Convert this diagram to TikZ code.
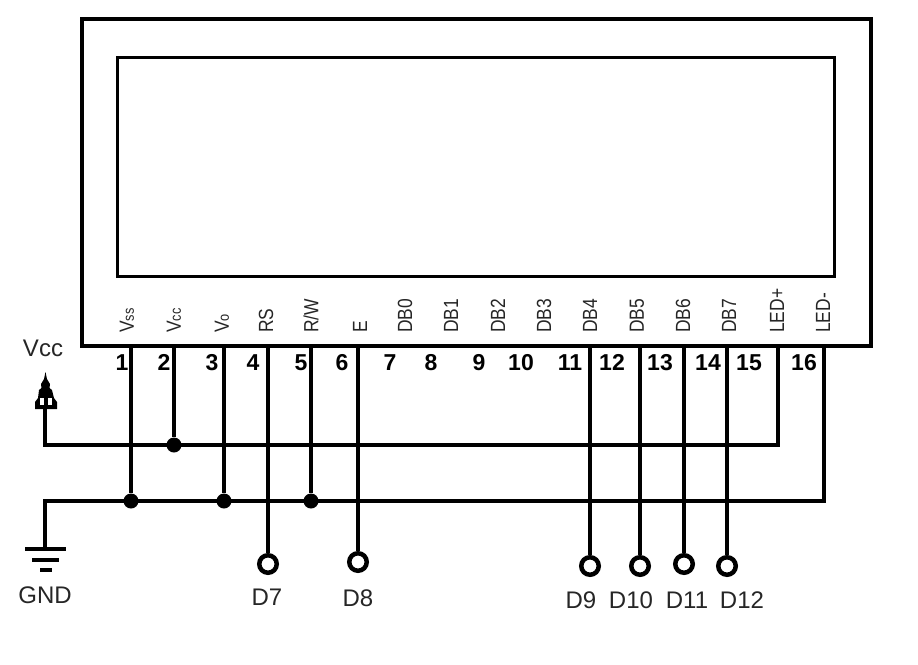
\documentclass[tikz,border=0pt]{standalone}
\usepackage{fontspec}
\setmainfont{Liberation Sans}
\newcommand{\subsz}{\fontsize{15}{15}\selectfont}
\begin{document}
\begin{tikzpicture}[x=1pt,y=-1pt,
  wire/.style={line width=4.5pt},
  frame/.style={draw,line width=4pt,minimum width=789pt,minimum height=327pt,inner sep=0pt},
  glass/.style={draw,line width=3pt,minimum width=717pt,minimum height=219pt,inner sep=0pt},
  pinname/.style={rotate=90,anchor=west,inner sep=0pt,font=\fontsize{20.5}{20.5}\selectfont,xscale=.85,text=black!85},
  pinnum/.style={inner sep=0pt,text height=16.5pt,text depth=0pt,font=\fontsize{23}{23}\selectfont\bfseries},
  dot/.style={circle,fill,inner sep=0pt,minimum size=15pt},
  term/.style={circle,draw,fill=white,line width=4.5pt,inner sep=0pt,minimum size=17.5pt},
  lbl/.style={inner sep=0pt,font=\fontsize{24}{24}\selectfont,text=black!85}]
\useasboundingbox (0,0) rectangle (918,664);
\node [frame] (lcd) at (476.5,182.5) {};
\node [glass] (screen) at (475.5,166.5) {};

\node [pinname] (nvss) at (127,333) {V{\subsz ss}};
\node [pinname] (nvcc) at (174,333) {V{\subsz cc}};
\node [pinname] (nvo) at (222,333) {V{\subsz o}};
\node [pinname] (nrs) at (266,333) {RS};
\node [pinname] (nrw) at (311,333) {R/W};
\node [pinname] (ne) at (360,333) {E};
\node [pinname] (ndb0) at (405,333) {DB0};
\node [pinname] (ndb1) at (451,333) {DB1};
\node [pinname] (ndb2) at (498,333) {DB2};
\node [pinname] (ndb3) at (544,333) {DB3};
\node [pinname] (ndb4) at (590,333) {DB4};
\node [pinname] (ndb5) at (637,333) {DB5};
\node [pinname] (ndb6) at (683,333) {DB6};
\node [pinname] (ndb7) at (729,333) {DB7};
\node [pinname] (nledp) at (777,333) {LED+};
\node [pinname] (nledm) at (823,333) {LED-};

\node [pinnum] (n1) at (122,362) {1};
\node [pinnum] (n2) at (164,362) {2};
\node [pinnum] (n3) at (212,362) {3};
\node [pinnum] (n4) at (253,362) {4};
\node [pinnum] (n5) at (301,362) {5};
\node [pinnum] (n6) at (342,362) {6};
\node [pinnum] (n7) at (390,362) {7};
\node [pinnum] (n8) at (431,362) {8};
\node [pinnum] (n9) at (479,362) {9};
\node [pinnum] (n10) at (521,362) {10};
\node [pinnum] (n11) at (570,362) {11};
\node [pinnum] (n12) at (612,362) {12};
\node [pinnum] (n13) at (660,362) {13};
\node [pinnum] (n14) at (708,362) {14};
\node [pinnum] (n15) at (749,362) {15};
\node [pinnum] (n16) at (804,362) {16};

\coordinate (p1) at (131,346);
\coordinate (p2) at (174,346);
\coordinate (p3) at (224,346);
\coordinate (p4) at (268,346);
\coordinate (p5) at (311,346);
\coordinate (p6) at (358,346);
\coordinate (p11) at (590,346);
\coordinate (p12) at (640,346);
\coordinate (p13) at (684,346);
\coordinate (p14) at (727,346);
\coordinate (p15) at (778,346);
\coordinate (p16) at (824,346);
\coordinate (vccfoot) at (45,408);
\coordinate (vcctip) at (45.5,372);
\coordinate (gndtop) at (45,549);

\node [dot] (j2) at (174,445) {};
\node [dot] (j1) at (131,501) {};
\node [dot] (j3) at (224,501) {};
\node [dot] (j5) at (311,501) {};
\coordinate (cledp) at (778,445);
\coordinate (cledm) at (824,501);

\draw [wire] (vccfoot) |- (j2.center) -- (cledp) -- (p15);
\draw [wire] (gndtop) |- (j1.center) -- (j3.center) -- (j5.center) -- (cledm) -- (p16);
\draw [wire] (p1) -- (j1);
\draw [wire] (p2) -- (j2);
\draw [wire] (p3) -- (j3);
\draw [wire] (p5) -- (j5);

\node [term] (t7) at (268,564) {};
\node [term] (t8) at (358,562) {};
\node [term] (t9) at (590,566) {};
\node [term] (t10) at (640,566) {};
\node [term] (t11) at (684,564) {};
\node [term] (t12) at (727,566) {};
\draw [wire] (p4) -- (t7);
\draw [wire] (p6) -- (t8);
\draw [wire] (p11) -- (t9);
\draw [wire] (p12) -- (t10);
\draw [wire] (p13) -- (t11);
\draw [wire] (p14) -- (t12);

\fill (vcctip) -- (47,379) -- (50,384) -- (49.5,388) -- (52,390) -- (54,398) -- (57,402) -- (57,409) -- (35,409) -- (35,402) -- (38,398) -- (39,390) -- (41.5,388) -- (41,384) -- (44,379) -- cycle;
\fill [white] (40,398) rectangle (43.5,405);
\fill [white] (48,398) rectangle (51.5,405);

\draw [line width=4pt] (25,549) -- (66,549);
\draw [line width=4pt] (32,560) -- (59,560);
\draw [line width=4pt] (40,570) -- (52,570);

\node [lbl] (lvcc) at (43,348) {Vcc};
\node [lbl] (lgnd) at (45,595) {GND};
\node [lbl] (ld7) at (267,597) {D7};
\node [lbl] (ld8) at (358,598) {D8};
\node [lbl] (ld9) at (581,600) {D9};
\node [lbl] (ld10) at (631,600) {D10};
\node [lbl] (ld11) at (687,600) {D11};
\node [lbl] (ld12) at (742,600) {D12};
\end{tikzpicture}
\end{document}
